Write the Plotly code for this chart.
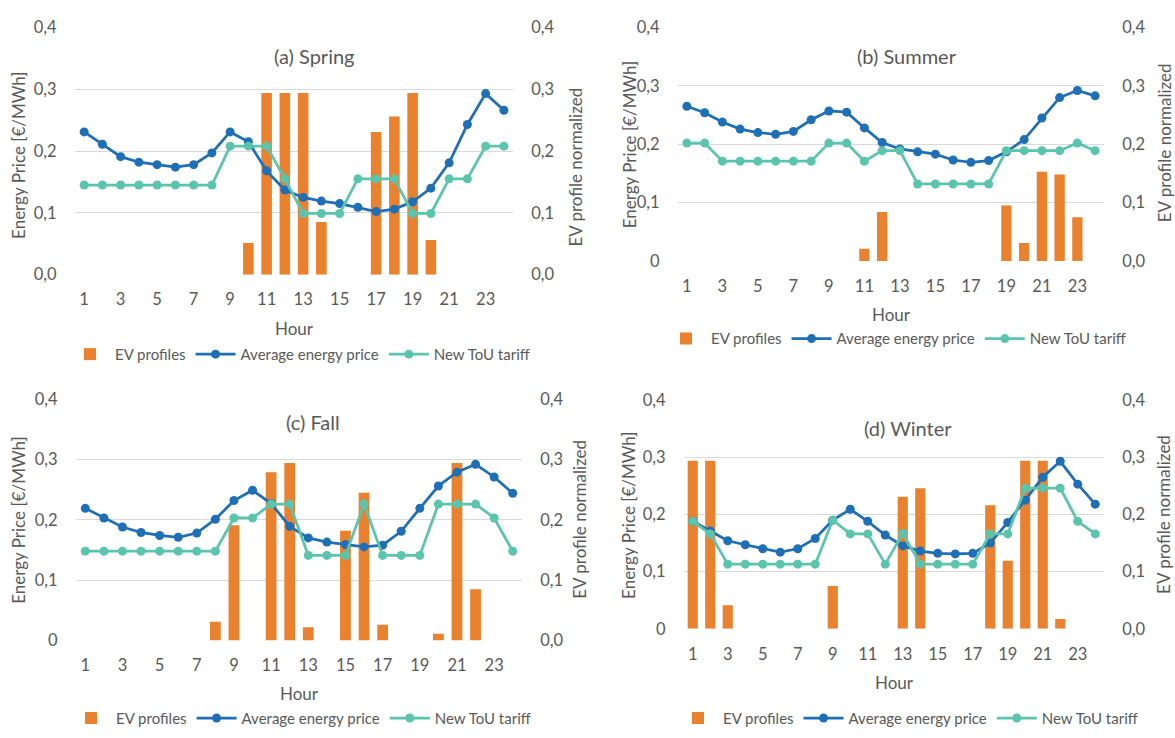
import plotly.graph_objects as go

# ---- data -------------------------------------------------------------
hours = list(range(1, 25))
hour_ticks = [1, 3, 5, 7, 9, 11, 13, 15, 17, 19, 21, 23]
value_ticks = [0.0, 0.1, 0.2, 0.3, 0.4]
left_labels_a = ["0,0", "0,1", "0,2", "0,3", "0,4"]
left_labels = ["0", "0,1", "0,2", "0,3", "0,4"]
right_labels = ["0,0", "0,1", "0,2", "0,3", "0,4"]

spring_ev = [0, 0, 0, 0, 0, 0, 0, 0, 0, 0.051, 0.294, 0.294,
             0.294, 0.085, 0, 0, 0.231, 0.256, 0.294, 0.056, 0, 0, 0, 0]
spring_price = [0.231, 0.211, 0.191, 0.182, 0.178, 0.174, 0.178, 0.197,
                0.231, 0.215, 0.168, 0.137, 0.125, 0.119, 0.115, 0.109,
                0.102, 0.106, 0.118, 0.140, 0.181, 0.243, 0.293, 0.266]
spring_tou = [0.145, 0.145, 0.145, 0.145, 0.145, 0.145, 0.145, 0.145,
              0.208, 0.208, 0.208, 0.155, 0.099, 0.099, 0.099, 0.155,
              0.155, 0.155, 0.099, 0.099, 0.155, 0.155, 0.208, 0.208]

summer_ev = [0, 0, 0, 0, 0, 0, 0, 0, 0, 0, 0.021, 0.084,
             0, 0, 0, 0, 0, 0, 0.095, 0.031, 0.153, 0.148, 0.075, 0]
summer_price = [0.265, 0.254, 0.238, 0.226, 0.220, 0.217, 0.222, 0.242,
                0.257, 0.255, 0.228, 0.203, 0.192, 0.187, 0.183, 0.173,
                0.169, 0.172, 0.187, 0.208, 0.245, 0.280, 0.292, 0.283]
summer_tou = [0.202, 0.202, 0.171, 0.171, 0.171, 0.171, 0.171, 0.171,
              0.202, 0.202, 0.171, 0.189, 0.189, 0.132, 0.132, 0.132,
              0.132, 0.132, 0.189, 0.189, 0.189, 0.189, 0.202, 0.189]

fall_ev = [0, 0, 0, 0, 0, 0, 0, 0.031, 0.191, 0, 0.279, 0.294,
           0.022, 0, 0.182, 0.245, 0.026, 0, 0, 0.011, 0.294, 0.085, 0, 0]
fall_price = [0.219, 0.203, 0.188, 0.179, 0.174, 0.171, 0.178, 0.201,
              0.232, 0.249, 0.227, 0.189, 0.170, 0.163, 0.159, 0.155,
              0.158, 0.181, 0.219, 0.256, 0.279, 0.292, 0.271, 0.244]
fall_tou = [0.148, 0.148, 0.148, 0.148, 0.148, 0.148, 0.148, 0.148,
            0.203, 0.203, 0.226, 0.226, 0.141, 0.141, 0.141, 0.226,
            0.141, 0.141, 0.141, 0.226, 0.226, 0.226, 0.203, 0.148]

winter_ev = [0.294, 0.294, 0.041, 0, 0, 0, 0, 0, 0.075, 0, 0, 0,
             0.231, 0.246, 0, 0, 0, 0.216, 0.119, 0.294, 0.294, 0.017, 0, 0]
winter_price = [0.188, 0.171, 0.154, 0.147, 0.140, 0.134, 0.140, 0.158,
                0.190, 0.209, 0.188, 0.164, 0.145, 0.136, 0.132, 0.131,
                0.132, 0.150, 0.186, 0.225, 0.265, 0.293, 0.253, 0.218]
winter_tou = [0.188, 0.166, 0.113, 0.113, 0.113, 0.113, 0.113, 0.113,
              0.190, 0.166, 0.166, 0.113, 0.167, 0.113, 0.113, 0.113,
              0.113, 0.166, 0.166, 0.246, 0.246, 0.246, 0.188, 0.166]

titles = ["(a) Spring", "(b) Summer", "(c) Fall", "(d) Winter"]
ev_series = [spring_ev, summer_ev, fall_ev, winter_ev]
price_series = [spring_price, summer_price, fall_price, winter_price]
tou_series = [spring_tou, summer_tou, fall_tou, winter_tou]

# ---- styling ------------------------------------------------------------
W, H = 1175, 738
FONT = "Lato, 'Open Sans', sans-serif"
GREY = "#595959"
GRID = "#D9D9D9"
ORANGE = "#E9812F"
BLUE = "#1F6FB6"
TEAL = "#5BC4AC"

# panel layout in pixels: plot box (left, right, top, bottom) and text anchors
panels = [
    dict(box=(75, 513, 18, 272), title=(314, 47), hour=(294, 327),
         ltitle=(19, 150), rtitle=(576, 162), legend=(300, 354)),
    dict(box=(678, 1104, 18, 258), title=(907, 47), hour=(891, 313),
         ltitle=(629, 138), rtitle=(1164, 137), legend=(896, 338)),
    dict(box=(76, 522, 400, 648), title=(313, 423), hour=(299, 703),
         ltitle=(19, 525), rtitle=(580, 524), legend=(301, 728)),
    dict(box=(684, 1104, 401, 636), title=(908, 430), hour=(894, 691),
         ltitle=(629, 519), rtitle=(1164, 519), legend=(908, 728)),
]

TICK_SIZE = 16.5
AXTITLE_SIZE = 17
TITLE_SIZE = 20
LEGEND_SIZE = 15


def px_x(x):
    return x / W


def px_y(y):
    return 1 - y / H


fig = go.Figure()
layout = dict(
    width=W, height=H, autosize=False,
    margin=dict(l=0, r=0, t=0, b=0),
    paper_bgcolor="white", plot_bgcolor="white",
    font=dict(family=FONT, color=GREY),
    bargap=0.42,
    annotations=[],
)

for i, p in enumerate(panels):
    n = i + 1
    xid = "x" if n == 1 else f"x{n}"
    yr_n = 2 * i + 1          # EV profile axis (right, base)
    yl_n = 2 * i + 2          # price axis (left, overlaid)
    yr_id = "y" if yr_n == 1 else f"y{yr_n}"
    yl_id = f"y{yl_n}"
    leg_id = "legend" if n == 1 else f"legend{n}"

    fig.add_trace(go.Bar(
        x=hours, y=ev_series[i], name="EV profiles",
        marker=dict(color=ORANGE, line=dict(width=0)),
        xaxis=xid, yaxis=yr_id, legend=leg_id,
    ))
    fig.add_trace(go.Scatter(
        x=hours, y=price_series[i], name="Average energy price",
        mode="lines+markers",
        line=dict(color=BLUE, width=2.75),
        marker=dict(color=BLUE, size=9),
        xaxis=xid, yaxis=yl_id, legend=leg_id,
    ))
    fig.add_trace(go.Scatter(
        x=hours, y=tou_series[i], name="New ToU tariff",
        mode="lines+markers",
        line=dict(color=TEAL, width=2.75),
        marker=dict(color=TEAL, size=9),
        xaxis=xid, yaxis=yl_id, legend=leg_id,
    ))

    l, r, t, b = p["box"]
    xkey = "xaxis" if n == 1 else f"xaxis{n}"
    yr_key = "yaxis" if yr_n == 1 else f"yaxis{yr_n}"
    yl_key = f"yaxis{yl_n}"

    layout[xkey] = dict(
        domain=[px_x(l), px_x(r)], anchor=yr_id,
        range=[0.5, 24.5], tickmode="array", tickvals=hour_ticks,
        showgrid=False, zeroline=False, showline=False,
        ticks="outside", ticklen=10, tickcolor="rgba(0,0,0,0)",
        tickfont=dict(size=TICK_SIZE, color=GREY, family=FONT),
    )
    layout[yr_key] = dict(
        domain=[px_y(b), px_y(t)], anchor=xid, side="right",
        range=[0, 0.4], tickmode="array", tickvals=value_ticks,
        ticktext=right_labels,
        showgrid=True, gridcolor=GRID, gridwidth=1.4,
        zeroline=False, showline=False,
        ticks="outside", ticklen=14, tickcolor="rgba(0,0,0,0)",
        tickfont=dict(size=TICK_SIZE, color=GREY, family=FONT),
    )
    layout[yl_key] = dict(
        domain=[px_y(b), px_y(t)], anchor=xid, side="left",
        overlaying=yr_id,
        range=[0, 0.4], tickmode="array", tickvals=value_ticks,
        ticktext=left_labels_a if i == 0 else left_labels,
        showgrid=False, zeroline=False, showline=False,
        ticks="outside", ticklen=14, tickcolor="rgba(0,0,0,0)",
        tickfont=dict(size=TICK_SIZE, color=GREY, family=FONT),
    )

    lx, ly = p["legend"]
    layout[leg_id] = dict(
        orientation="h", x=px_x(lx), y=px_y(ly),
        xanchor="center", yanchor="middle",
        font=dict(size=LEGEND_SIZE, color=GREY, family=FONT),
        bgcolor="rgba(0,0,0,0)", traceorder="normal",
        itemwidth=40, tracegroupgap=0,
    )

    tx, ty = p["title"]
    layout["annotations"].append(dict(
        text=titles[i], x=px_x(tx), y=px_y(ty), xref="paper", yref="paper",
        showarrow=False, xanchor="center", yanchor="middle",
        font=dict(size=TITLE_SIZE, color=GREY, family=FONT),
    ))
    hx, hy = p["hour"]
    layout["annotations"].append(dict(
        text="Hour", x=px_x(hx), y=px_y(hy), xref="paper", yref="paper",
        showarrow=False, xanchor="center", yanchor="middle",
        font=dict(size=AXTITLE_SIZE, color=GREY, family=FONT),
    ))
    ax_, ay_ = p["ltitle"]
    layout["annotations"].append(dict(
        text="Energy Price [€/MWh]", x=px_x(ax_), y=px_y(ay_),
        xref="paper", yref="paper", textangle=-90,
        showarrow=False, xanchor="center", yanchor="middle",
        font=dict(size=AXTITLE_SIZE, color=GREY, family=FONT),
    ))
    rx, ry = p["rtitle"]
    layout["annotations"].append(dict(
        text="EV profile normalized", x=px_x(rx), y=px_y(ry),
        xref="paper", yref="paper", textangle=-90,
        showarrow=False, xanchor="center", yanchor="middle",
        font=dict(size=AXTITLE_SIZE, color=GREY, family=FONT),
    ))

fig.update_layout(**layout)
fig.write_html("out.html")
